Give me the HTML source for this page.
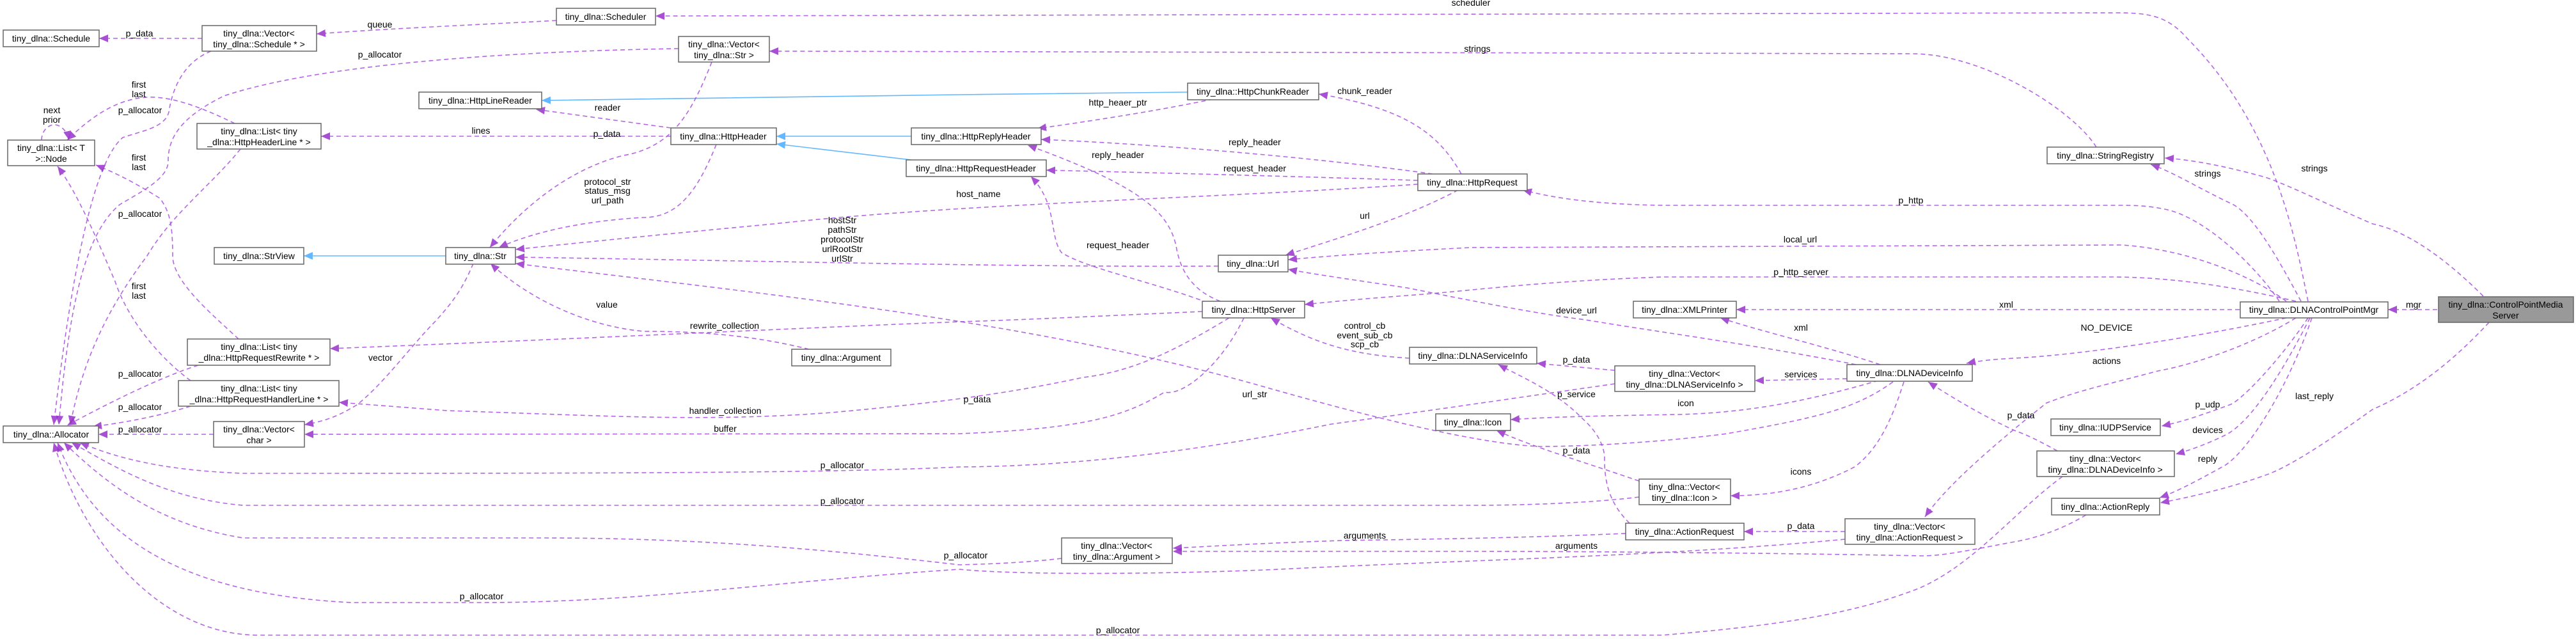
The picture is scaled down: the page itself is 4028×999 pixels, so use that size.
<!DOCTYPE html>
<html><head><meta charset="utf-8"><style>
html,body{margin:0;padding:0;background:#fff;}
svg{display:block;}
text{font-family:"Liberation Sans","DejaVu Sans",sans-serif;font-size:14px;fill:#000;}
.b{fill:#fff;stroke:#666;stroke-width:1.5;}
.e{fill:none;stroke:#a64de0;stroke-width:1.6;stroke-dasharray:7,5;opacity:.85;}
.i{fill:none;stroke:#63b8ff;stroke-width:1.6;}
</style></head><body>
<svg width="4028" height="999" viewBox="0 0 4028 999" xmlns="http://www.w3.org/2000/svg">
<defs>
<marker id="a" markerUnits="userSpaceOnUse" markerWidth="16" markerHeight="12" refX="14" refY="6" orient="auto"><path d="M0,0 L14,6 L0,12 z" fill="#9a32cd"/></marker>
<marker id="h" markerUnits="userSpaceOnUse" markerWidth="16" markerHeight="12" refX="14" refY="6" orient="auto"><path d="M0,0 L14,6 L0,12 z" fill="#63b8ff"/></marker>
</defs>

<!-- inheritance -->
<path class="i" marker-end="url(#h)" d="M697,400 L475,400"/>
<path class="i" marker-end="url(#h)" d="M1857,144 L1500,148 L847,157"/>
<path class="i" marker-end="url(#h)" d="M1425,213 L1214,213"/>
<path class="i" marker-end="url(#h)" d="M1425,250 L1214,225"/>

<!-- edges -->
<g marker-end="url(#a)">
<path class="e" d="M316,60 L155,60"/>
<path class="e" d="M870,32 C760,38 600,45 495,53"/>
<path class="e" d="M3609,471 C3590,380 3560,200 3420,60 C3390,25 3360,20 3310,20 L1025,25"/>
<path class="e" d="M3278,230 C3240,170 3100,84 2990,84 L1203,80"/>
<path class="e" d="M1061,76 C800,80 500,100 350,150 C290,180 262,210 263,253 C262,280 220,300 187,320 C140,360 110,450 92,664"/>
<path class="e" d="M330,80 C280,100 268,150 264,175 C258,200 220,205 192,215 C150,250 115,400 84,664"/>
<path class="e" d="M376,233 C330,290 270,333 230,400 C170,480 130,560 110,664"/>
<path class="e" d="M367,193 C320,170 270,150 230,152 C180,155 140,185 105,219"/>
<path class="e" d="M65,219 C65,205 75,195 85,195 C95,195 105,205 108,219"/>
<path class="e" d="M373,530 C330,490 270,440 270,400 C270,350 265,330 250,310 C210,285 180,270 150,258"/>
<path class="e" d="M298,595 C250,560 200,500 180,440 C150,370 120,300 90,260"/>
<path class="e" d="M310,571 C250,590 170,630 105,665"/>
<path class="e" d="M298,635 C250,650 200,660 145,667"/>
<path class="e" d="M334,679 L154,679"/>
<path class="e" d="M2525,600 C2350,625 2250,640 2082,663 C1900,700 1700,729 1500,730 C1300,740 900,740 380,740 C250,735 180,715 125,692"/>
<path class="e" d="M2563,777 C2500,785 2400,790 2300,790 L380,790 C260,780 180,730 112,692"/>
<path class="e" d="M1660,873 C1600,880 1540,882 1500,883 C1300,860 1100,841 850,841 L380,841 C250,820 170,760 100,692"/>
<path class="e" d="M2885,843 C2600,870 2300,875 2000,890 C1850,897 1600,900 1500,890 C1200,910 1000,942 753,942 L550,942 C300,930 150,850 90,692"/>
<path class="e" d="M3225,745 C3150,800 3086,883 3000,920 C2896,960 2788,977 2600,993 L400,993 C250,990 130,850 84,692"/>
<path class="e" d="M1049,200 L838,171"/>
<path class="e" d="M1049,213 L502,213"/>
<path class="e" d="M1113,97 C1080,180 1050,230 975,243 C894,263 820,320 766,387"/>
<path class="e" d="M1120,226 C1090,300 1060,340 1006,340 C920,345 840,360 780,387"/>
<path class="e" d="M2217,288 C1900,310 1500,318 1210,350 C1050,365 900,380 806,390"/>
<path class="e" d="M1905,416 C1600,418 1200,408 806,402"/>
<path class="e" d="M1265,546 C1180,525 1100,518 1006,518 C920,510 830,470 767,412"/>
<path class="e" d="M740,412 C720,460 700,480 683,500 C643,540 600,600 558,633 C530,650 510,658 476,664"/>
<path class="e" d="M1897,155 C1800,175 1700,190 1622,201"/>
<path class="e" d="M2285,272 C2250,210 2200,170 2062,147"/>
<path class="e" d="M2240,272 C2050,245 1800,225 1628,218"/>
<path class="e" d="M2217,282 C2000,275 1800,270 1636,266"/>
<path class="e" d="M2280,297 C2200,340 2100,370 2010,399"/>
<path class="e" d="M1908,471 C1880,460 1850,440 1840,390 C1830,330 1780,290 1607,227"/>
<path class="e" d="M1888,473 C1800,440 1700,420 1660,395 C1640,370 1655,320 1612,276"/>
<path class="e" d="M1880,487 C1700,495 1600,500 1500,503 C1200,515 900,530 516,545"/>
<path class="e" d="M1922,497 C1850,540 1780,580 1694,590 C1600,610 1500,627 1300,645 C1100,660 950,650 700,642 L530,629"/>
<path class="e" d="M1945,497 C1910,570 1850,620 1821,613 C1760,650 1700,670 1500,678 L476,679"/>
<path class="e" d="M2204,560 C2120,555 2060,540 1987,497"/>
<path class="e" d="M2525,579 L2403,568"/>
<path class="e" d="M2548,818 C2520,790 2508,760 2509,713 C2505,680 2480,660 2473,653 C2430,610 2380,590 2343,570"/>
<path class="e" d="M2888,592 L2744,595"/>
<path class="e" d="M2937,595 C2850,620 2750,645 2625,648 C2500,650 2420,652 2362,656"/>
<path class="e" d="M2960,597 C2900,640 2842,653 2700,678 C2625,688 2500,698 2408,698 C2300,694 2100,640 1960,600 C1600,500 1200,460 806,412"/>
<path class="e" d="M2563,752 C2470,720 2400,700 2340,673"/>
<path class="e" d="M2977,597 C2960,650 2940,700 2900,730 C2842,760 2780,775 2706,775"/>
<path class="e" d="M2885,831 L2727,831"/>
<path class="e" d="M2940,570 C2850,540 2760,520 2690,497"/>
<path class="e" d="M2902,570 C2750,540 2600,520 2479,500 C2400,490 2300,470 2200,450 C2100,435 2050,428 2014,421"/>
<path class="e" d="M3564,471 C3530,420 3450,340 3385,327 C3360,322 3340,321 3320,321 L2603,321 C2500,320 2430,310 2381,297"/>
<path class="e" d="M3575,471 C3520,430 3420,390 3318,383 L2300,387 C2200,392 2100,398 2014,406"/>
<path class="e" d="M3590,471 C3500,450 3400,433 3301,433 L2600,433 C2400,440 2300,455 2200,462 C2120,468 2080,472 2040,476"/>
<path class="e" d="M3502,484 L2715,484"/>
<path class="e" d="M3575,497 C3420,530 3250,555 3150,560 C3110,562 3090,565 3075,568"/>
<path class="e" d="M3590,497 C3520,540 3430,570 3374,580 C3300,600 3251,610 3200,630 C3150,670 3050,750 3010,808"/>
<path class="e" d="M3609,497 C3560,570 3500,630 3486,633 C3440,650 3410,660 3380,666"/>
<path class="e" d="M3612,497 C3570,580 3520,660 3480,680 C3450,695 3420,705 3402,710"/>
<path class="e" d="M3615,497 C3580,600 3520,700 3480,727 C3430,755 3400,770 3377,778"/>
<path class="e" d="M3598,471 C3560,400 3520,330 3486,317 C3430,290 3400,270 3363,257"/>
<path class="e" d="M3217,705 C3190,690 3170,680 3150,673 C3100,650 3050,620 3015,597"/>
<path class="e" d="M2542,834 C2400,840 2300,842 2100,845 C1950,850 1880,855 1834,857"/>
<path class="e" d="M3262,805 C3220,830 3180,842 3150,847 C3080,860 3040,869 3005,869 C2800,865 2500,862 2300,862 C2100,862 1900,862 1834,862"/>
<path class="e" d="M3811,484 L3734,484"/>
<path class="e" d="M3883,463 C3820,400 3760,360 3710,350 C3640,320 3580,290 3542,277 C3480,260 3430,250 3385,247"/>
<path class="e" d="M3892,504 C3840,560 3780,610 3710,640 C3640,690 3580,730 3542,743 C3480,765 3420,778 3378,786"/>
</g>

<!-- boxes -->
<g>
<rect class="b" x="5" y="47" width="150" height="26"/><text x="80" y="65" text-anchor="middle">tiny_dlna::Schedule</text>
<rect class="b" x="316" y="40" width="179" height="40"/><text x="405" y="57" text-anchor="middle">tiny_dlna::Vector&lt;</text><text x="405" y="74" text-anchor="middle">tiny_dlna::Schedule * &gt;</text>
<rect class="b" x="12" y="219" width="136" height="40"/><text x="80" y="236" text-anchor="middle">tiny_dlna::List&lt; T</text><text x="80" y="253" text-anchor="middle">&gt;::Node</text>
<rect class="b" x="308" y="193" width="194" height="40"/><text x="405" y="210" text-anchor="middle">tiny_dlna::List&lt; tiny</text><text x="405" y="227" text-anchor="middle">_dlna::HttpHeaderLine * &gt;</text>
<rect class="b" x="335" y="387" width="140" height="26"/><text x="405" y="405" text-anchor="middle">tiny_dlna::StrView</text>
<rect class="b" x="5" y="666" width="149" height="26"/><text x="80" y="684" text-anchor="middle">tiny_dlna::Allocator</text>
<rect class="b" x="293" y="530" width="223" height="41"/><text x="405" y="547" text-anchor="middle">tiny_dlna::List&lt; tiny</text><text x="405" y="564" text-anchor="middle">_dlna::HttpRequestRewrite * &gt;</text>
<rect class="b" x="279" y="595" width="251" height="40"/><text x="405" y="612" text-anchor="middle">tiny_dlna::List&lt; tiny</text><text x="405" y="629" text-anchor="middle">_dlna::HttpRequestHandlerLine * &gt;</text>
<rect class="b" x="334" y="659" width="142" height="40"/><text x="405" y="676" text-anchor="middle">tiny_dlna::Vector&lt;</text><text x="405" y="693" text-anchor="middle">char &gt;</text>
<rect class="b" x="870" y="13" width="155" height="26"/><text x="947" y="31" text-anchor="middle">tiny_dlna::Scheduler</text>
<rect class="b" x="1061" y="57" width="142" height="40"/><text x="1132" y="74" text-anchor="middle">tiny_dlna::Vector&lt;</text><text x="1132" y="91" text-anchor="middle">tiny_dlna::Str &gt;</text>
<rect class="b" x="655" y="144" width="192" height="26"/><text x="751" y="162" text-anchor="middle">tiny_dlna::HttpLineReader</text>
<rect class="b" x="1049" y="200" width="165" height="26"/><text x="1131" y="218" text-anchor="middle">tiny_dlna::HttpHeader</text>
<rect class="b" x="697" y="387" width="109" height="26"/><text x="751" y="405" text-anchor="middle">tiny_dlna::Str</text>
<rect class="b" x="1425" y="200" width="203" height="26"/><text x="1526" y="218" text-anchor="middle">tiny_dlna::HttpReplyHeader</text>
<rect class="b" x="1417" y="250" width="219" height="26"/><text x="1526" y="268" text-anchor="middle">tiny_dlna::HttpRequestHeader</text>
<rect class="b" x="1857" y="130" width="205" height="26"/><text x="1959" y="148" text-anchor="middle">tiny_dlna::HttpChunkReader</text>
<rect class="b" x="1905" y="399" width="109" height="26"/><text x="1959" y="417" text-anchor="middle">tiny_dlna::Url</text>
<rect class="b" x="1880" y="471" width="160" height="26"/><text x="1960" y="489" text-anchor="middle">tiny_dlna::HttpServer</text>
<rect class="b" x="2217" y="272" width="171" height="26"/><text x="2302" y="290" text-anchor="middle">tiny_dlna::HttpRequest</text>
<rect class="b" x="1238" y="546" width="155" height="26"/><text x="1315" y="564" text-anchor="middle">tiny_dlna::Argument</text>
<rect class="b" x="1660" y="841" width="173" height="40"/><text x="1746" y="858" text-anchor="middle">tiny_dlna::Vector&lt;</text><text x="1746" y="875" text-anchor="middle">tiny_dlna::Argument &gt;</text>
<rect class="b" x="2204" y="543" width="199" height="26"/><text x="2303" y="561" text-anchor="middle">tiny_dlna::DLNAServiceInfo</text>
<rect class="b" x="2245" y="647" width="117" height="26"/><text x="2303" y="665" text-anchor="middle">tiny_dlna::Icon</text>
<rect class="b" x="2554" y="471" width="161" height="26"/><text x="2634" y="489" text-anchor="middle">tiny_dlna::XMLPrinter</text>
<rect class="b" x="2525" y="572" width="219" height="40"/><text x="2634" y="589" text-anchor="middle">tiny_dlna::Vector&lt;</text><text x="2634" y="606" text-anchor="middle">tiny_dlna::DLNAServiceInfo &gt;</text>
<rect class="b" x="2888" y="570" width="196" height="26"/><text x="2986" y="588" text-anchor="middle">tiny_dlna::DLNADeviceInfo</text>
<rect class="b" x="2563" y="749" width="143" height="40"/><text x="2634" y="766" text-anchor="middle">tiny_dlna::Vector&lt;</text><text x="2634" y="783" text-anchor="middle">tiny_dlna::Icon &gt;</text>
<rect class="b" x="2542" y="818" width="185" height="26"/><text x="2634" y="836" text-anchor="middle">tiny_dlna::ActionRequest</text>
<rect class="b" x="2885" y="811" width="203" height="40"/><text x="2986" y="828" text-anchor="middle">tiny_dlna::Vector&lt;</text><text x="2986" y="845" text-anchor="middle">tiny_dlna::ActionRequest &gt;</text>
<rect class="b" x="3201" y="230" width="183" height="26"/><text x="3292" y="248" text-anchor="middle">tiny_dlna::StringRegistry</text>
<rect class="b" x="3503" y="472" width="231" height="25"/><text x="3618" y="489" text-anchor="middle">tiny_dlna::DLNAControlPointMgr</text>
<rect x="3813" y="464" width="211" height="40" fill="#999" stroke="#666" stroke-width="1.5"/><text x="3918" y="481" text-anchor="middle">tiny_dlna::ControlPointMedia</text><text x="3918" y="498" text-anchor="middle">Server</text>
<rect class="b" x="3207" y="655" width="171" height="26"/><text x="3292" y="673" text-anchor="middle">tiny_dlna::IUDPService</text>
<rect class="b" x="3185" y="705" width="215" height="40"/><text x="3292" y="722" text-anchor="middle">tiny_dlna::Vector&lt;</text><text x="3292" y="739" text-anchor="middle">tiny_dlna::DLNADeviceInfo &gt;</text>
<rect class="b" x="3208" y="779" width="169" height="26"/><text x="3292" y="797" text-anchor="middle">tiny_dlna::ActionReply</text>
</g>

<!-- edge labels -->
<g text-anchor="middle">
<text x="218" y="57">p_data</text>
<text x="594" y="43">queue</text>
<text x="594" y="90">p_allocator</text>
<text x="217" y="137">first</text><text x="217" y="152">last</text>
<text x="81" y="177">next</text><text x="81" y="192">prior</text>
<text x="219" y="177">p_allocator</text>
<text x="217" y="251">first</text><text x="217" y="266">last</text>
<text x="219" y="339">p_allocator</text>
<text x="217" y="452">first</text><text x="217" y="467">last</text>
<text x="219" y="589">p_allocator</text>
<text x="219" y="641">p_allocator</text>
<text x="219" y="676">p_allocator</text>
<text x="595" y="564">vector</text>
<text x="2300" y="9">scheduler</text>
<text x="2310" y="81">strings</text>
<text x="950" y="173">reader</text>
<text x="752" y="209">lines</text>
<text x="949" y="214">p_data</text>
<text x="950" y="289">protocol_str</text><text x="950" y="303">status_msg</text><text x="950" y="318">url_path</text>
<text x="1317" y="349">hostStr</text><text x="1317" y="364">pathStr</text><text x="1317" y="379">protocolStr</text><text x="1317" y="394">urlRootStr</text><text x="1317" y="409">urlStr</text>
<text x="1530" y="308">host_name</text>
<text x="949" y="481">value</text>
<text x="1748" y="165">http_heaer_ptr</text>
<text x="2134" y="147">chunk_reader</text>
<text x="1962" y="227">reply_header</text>
<text x="1748" y="247">reply_header</text>
<text x="1962" y="268">request_header</text>
<text x="1748" y="388">request_header</text>
<text x="2134" y="342">url</text>
<text x="1133" y="514">rewrite_collection</text>
<text x="1134" y="647">handler_collection</text>
<text x="1134" y="675">buffer</text>
<text x="1317" y="732">p_allocator</text>
<text x="1317" y="788">p_allocator</text>
<text x="1510" y="873">p_allocator</text>
<text x="753" y="937">p_allocator</text>
<text x="1748" y="990">p_allocator</text>
<text x="2134" y="514">control_cb</text><text x="2134" y="529">event_sub_cb</text><text x="2134" y="543">scp_cb</text>
<text x="1962" y="621">url_str</text>
<text x="1528" y="629">p_data</text>
<text x="2134" y="842">arguments</text>
<text x="2988" y="318">p_http</text>
<text x="2815" y="379">local_url</text>
<text x="2816" y="430">p_http_server</text>
<text x="2465" y="490">device_url</text>
<text x="3137" y="481">xml</text>
<text x="2816" y="517">xml</text>
<text x="2465" y="567">p_data</text>
<text x="2816" y="590">services</text>
<text x="2465" y="621">p_service</text>
<text x="2636" y="635">icon</text>
<text x="2465" y="709">p_data</text>
<text x="2816" y="742">icons</text>
<text x="2816" y="827">p_data</text>
<text x="2465" y="858">arguments</text>
<text x="3160" y="654">p_data</text>
<text x="3452" y="276">strings</text>
<text x="3619" y="268">strings</text>
<text x="3774" y="481">mgr</text>
<text x="3294" y="517">NO_DEVICE</text>
<text x="3294" y="569">actions</text>
<text x="3452" y="637">p_udp</text>
<text x="3452" y="677">devices</text>
<text x="3452" y="722">reply</text>
<text x="3619" y="624">last_reply</text>
</g>
</svg>
</body></html>
